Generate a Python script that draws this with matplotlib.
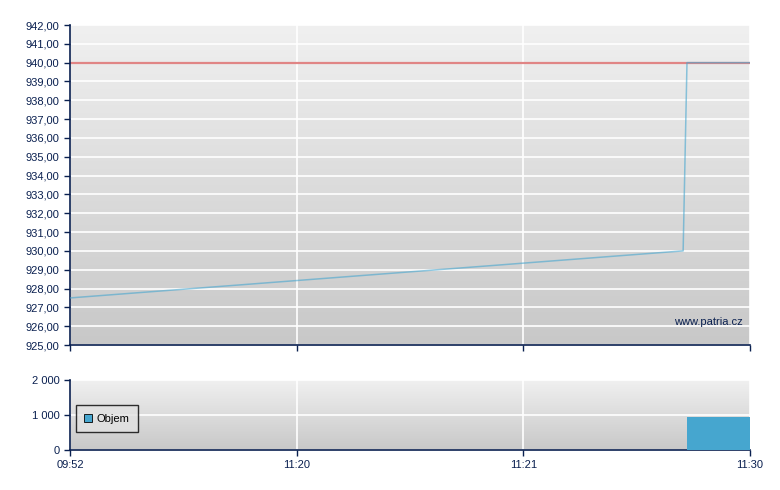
import numpy as np
import matplotlib.pyplot as plt

plt.rcParams['font.family'] = ['Liberation Sans', 'DejaVu Sans']

# x positions on a category-like time axis (0..3 -> tick labels)
time_labels = ['09:52', '11:20', '11:21', '11:30']
price_x = [0.0, 2.705, 2.722, 3.0]
price_y = [927.5, 930.0, 940.0, 940.0]
ref_price = 940.0

vol_x = [2.722]
vol_w = [0.278]
vol_y = [950]

navy = '#0a2050'
blue = '#46a6cf'
red = '#e08585'

fig = plt.figure(figsize=(7.8, 4.9), dpi=100)
ax1 = fig.add_axes([70/780, 1-345/490, 680/780, 320/490])
ax2 = fig.add_axes([70/780, 1-450/490, 680/780, 70/490])

grad = np.linspace(0, 1, 256).reshape(-1, 1)
cmap = plt.matplotlib.colors.LinearSegmentedColormap.from_list('g', ['#f0f0f0', '#c8c8c8'])
for ax in (ax1, ax2):
    ax.imshow(grad, extent=[0, 1, 0, 1], transform=ax.transAxes, aspect='auto',
              cmap=cmap, zorder=0)
    ax.set_xlim(0, 3)
    ax.set_xticks(range(len(time_labels)))
    ax.grid(True, color='white', linewidth=1.2, zorder=1)
    for s in ('top', 'right'):
        ax.spines[s].set_visible(False)
    for s in ('left', 'bottom'):
        ax.spines[s].set_color(navy)
        ax.spines[s].set_linewidth(1.2)
    ax.tick_params(colors=navy, labelsize=8, length=4, width=1, direction='out')
    ax.set_axisbelow(True)

# price panel
ax1.set_ylim(925, 942)
ax1.set_yticks(np.arange(925, 943, 1))
ax1.set_yticklabels([f'{v:.2f}'.replace('.', ',') for v in np.arange(925, 943, 1)])
ax1.set_xticklabels([])
ax1.axhline(ref_price, color=red, linewidth=1.6, zorder=2)
ax1.plot(price_x, price_y, color=blue, linewidth=1.1, alpha=0.6, zorder=3)
ax1.text(0.99, 0.055, 'www.patria.cz', transform=ax1.transAxes, ha='right', va='bottom',
         color=navy, fontsize=8)

# volume panel
ax2.set_ylim(0, 2000)
ax2.set_yticks([0, 1000, 2000])
ax2.set_yticklabels(['0', '1 000', '2 000'])
ax2.set_xticklabels(time_labels)
ax2.bar(vol_x, vol_y, width=vol_w, align='edge', color=blue, zorder=3, label='Objem')
leg = ax2.legend(loc='center left', bbox_to_anchor=(0.0, 0.45), fontsize=8, frameon=True,
                 fancybox=False, edgecolor='black', handlelength=0.7, handleheight=0.7,
                 handletextpad=0.4, borderpad=0.8, labelcolor='black')
leg.get_frame().set_facecolor('#e2e2e2')
leg.get_frame().set_linewidth(1.0)
leg.legend_handles[0].set_edgecolor('black')
leg.legend_handles[0].set_linewidth(0.6)

fig.savefig('out.png', dpi=100)
